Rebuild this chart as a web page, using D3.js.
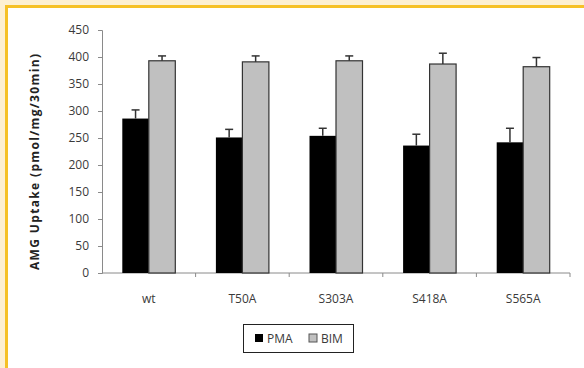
<!DOCTYPE html>
<html>
<head>
<meta charset="utf-8">
<script src="https://cdn.jsdelivr.net/npm/d3@7"></script>
<style>
  body { margin: 0; background: #fff; }
  svg text { font-family: "Open Sans", "DejaVu Sans", sans-serif; }
</style>
</head>
<body>
<div id="chart"></div>
<script>
// values
const categories = ["wt", "T50A", "S303A", "S418A", "S565A"];
const seriesNames = ["PMA", "BIM"];
const pmaValues = [286, 251, 254, 236, 242];
const pmaErrors = [16, 15, 14, 21, 26];
const bimValues = [393, 391, 393, 387, 382];
const bimErrors = [9, 11, 9, 20, 17];
const yTicks = [0, 50, 100, 150, 200, 250, 300, 350, 400, 450];

const width = 584, height = 368;
const colors = { PMA: "#000000", BIM: "#c0c0c0" };

let svg = d3.select("#chart").append("svg")
    .attr("width", width)
    .attr("height", height);

// frame: cream strip + orange rule on top and left
svg.append("rect").attr("x", 0).attr("y", 0).attr("width", width).attr("height", height).attr("fill", "#fdf0d2");
svg.append("rect").attr("x", 5).attr("y", 5).attr("width", width).attr("height", height).attr("fill", "#f6c127");
svg.append("rect").attr("x", 8).attr("y", 8).attr("width", width).attr("height", height).attr("fill", "#ffffff");

const x = d3.scaleBand().domain(categories).range([102, 570]).paddingInner(0).paddingOuter(0);
const y = d3.scaleLinear().domain([0, 450]).range([273, 30]);
const inner = d3.scaleBand().domain(seriesNames).range([0, 53]);
const groupOffset = (x.bandwidth() - 53) / 2;

// y axis
let yAxis = svg.append("g")
    .attr("transform", "translate(102,0)")
    .call(d3.axisLeft(y).tickValues(yTicks).tickSize(4).tickPadding(9));
yAxis.select(".domain").attr("stroke", "#8a8a8a");
yAxis.selectAll(".tick line").attr("stroke", "#8a8a8a");
yAxis.selectAll(".tick text").attr("fill", "#3a3a3a").style("font-size", "12px");

// x axis: ticks at band boundaries, labels centred below
let xAxis = svg.append("g").attr("transform", "translate(0,273)");
xAxis.append("line")
    .attr("x1", 102).attr("x2", 570)
    .attr("stroke", "#8a8a8a");
xAxis.selectAll(".xtick")
    .data(categories)
    .join("line")
    .attr("x1", d => x(d) + x.bandwidth()).attr("x2", d => x(d) + x.bandwidth())
    .attr("y1", 0).attr("y2", 4)
    .attr("stroke", "#8a8a8a");
xAxis.selectAll(".xlabel")
    .data(categories)
    .join("text")
    .attr("x", d => x(d) + x.bandwidth() / 2)
    .attr("y", 30)
    .attr("text-anchor", "middle")
    .attr("fill", "#3a3a3a")
    .style("font-size", "12px")
    .text(d => d);

// y title
svg.append("text")
    .attr("transform", "translate(39,162) rotate(-90)")
    .attr("text-anchor", "middle")
    .attr("fill", "#222")
    .style("font-size", "12px")
    .style("font-weight", "bold")
    .attr("textLength", 216)
    .attr("lengthAdjust", "spacing")
    .text("AMG Uptake (pmol/mg/30min)");

// bars
let rows = categories.map((c, i) => [
    { cat: c, series: "PMA", value: pmaValues[i], err: pmaErrors[i] },
    { cat: c, series: "BIM", value: bimValues[i], err: bimErrors[i] }
]).flat();

let bars = svg.append("g");
bars.selectAll("rect")
    .data(rows)
    .join("rect")
    .attr("x", d => x(d.cat) + groupOffset + inner(d.series))
    .attr("y", d => y(d.value))
    .attr("width", inner.bandwidth())
    .attr("height", d => y(0) - y(d.value))
    .attr("fill", d => colors[d.series])
    .attr("stroke", d => d.series == "BIM" ? "#333" : "none")
    .attr("stroke-width", 1.2);

// error bars (upper only)
let errs = svg.append("g").attr("stroke", "#333").attr("stroke-width", 1.5);
errs.selectAll(".stem")
    .data(rows)
    .join("line")
    .attr("x1", d => x(d.cat) + groupOffset + inner(d.series) + inner.bandwidth() / 2)
    .attr("x2", d => x(d.cat) + groupOffset + inner(d.series) + inner.bandwidth() / 2)
    .attr("y1", d => y(d.value))
    .attr("y2", d => y(d.value + d.err));
errs.selectAll(".cap")
    .data(rows)
    .join("line")
    .attr("x1", d => x(d.cat) + groupOffset + inner(d.series) + inner.bandwidth() / 2 - 4)
    .attr("x2", d => x(d.cat) + groupOffset + inner(d.series) + inner.bandwidth() / 2 + 4)
    .attr("y1", d => y(d.value + d.err))
    .attr("y2", d => y(d.value + d.err));

// legend
let legend = svg.append("g");
legend.append("rect")
    .attr("x", 243.5).attr("y", 324.5).attr("width", 110).attr("height", 28)
    .attr("fill", "#fff").attr("stroke", "#222").attr("stroke-width", 1);
let item = legend.selectAll(".item")
    .data(seriesNames)
    .join("g")
    .attr("transform", (d, i) => `translate(${255 + i * 54},334)`);
item.append("rect")
    .attr("width", 8).attr("height", 8)
    .attr("fill", d => colors[d])
    .attr("stroke", d => d == "BIM" ? "#555" : "none");
item.append("text")
    .attr("x", 12).attr("y", 8.5)
    .attr("fill", "#3a3a3a")
    .style("font-size", "12px")
    .text(d => d);
</script>
</body>
</html>
